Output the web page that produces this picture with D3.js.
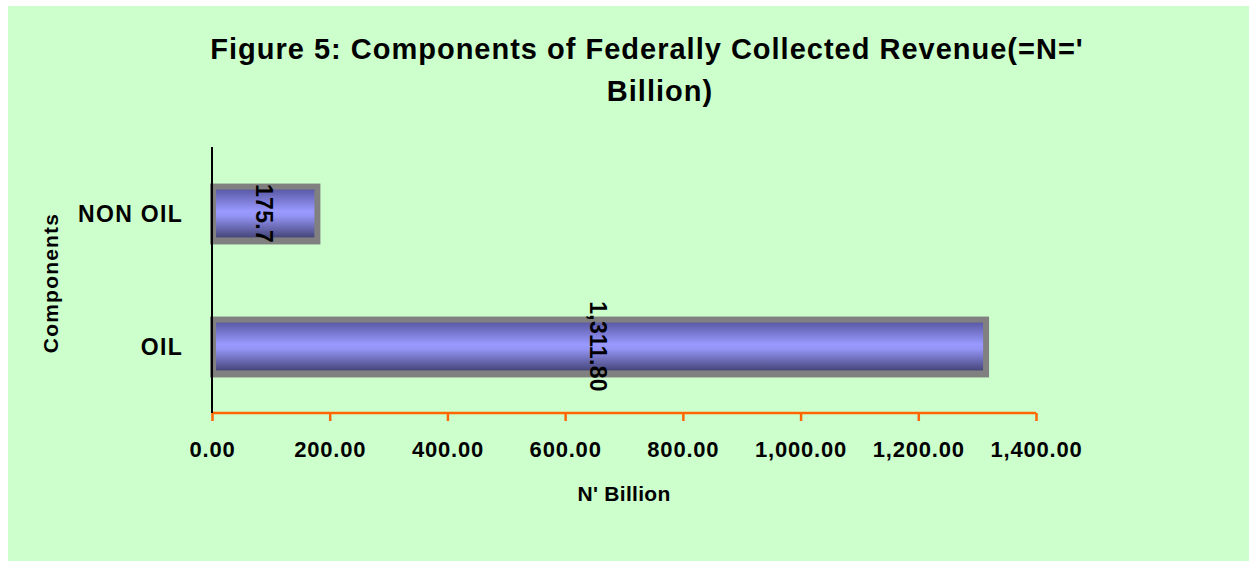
<!DOCTYPE html>
<html>
<head>
<meta charset="utf-8">
<script src="https://d3js.org/d3.v7.min.js"></script>
<style>
  body { margin: 0; background: #ffffff; }
  text { font-family: Arial, "Liberation Sans", sans-serif; font-weight: bold; fill: #000; }
</style>
</head>
<body>
<svg id="chart" width="1249" height="561"></svg>
<script>
// chart data
const components = ["NON OIL", "OIL"]
const revenue = [175.7, 1311.8]
const valueLabels = ["175.7", "1,311.80"]
const xTicks = [0, 200, 400, 600, 800, 1000, 1200, 1400]
const titleLines = ["Figure 5: Components of Federally Collected Revenue(=N='", "Billion)"]

const width = 1249
const height = 561
const margin = { top: 147, right: 213, bottom: 148, left: 212 }

const svg = d3.select("#chart")

// pale green chart area
svg.append("rect")
  .attr("x", 8)
  .attr("y", 6)
  .attr("width", width - 8)
  .attr("height", height - 6)
  .attr("fill", "#ccffcc")

const defs = svg.append("defs")
const grad = defs.append("linearGradient")
  .attr("id", "barFill")
  .attr("x1", 0).attr("y1", 0)
  .attr("x2", 0).attr("y2", 1)
grad.append("stop").attr("offset", "0%").attr("stop-color", "#5a5aa6")
grad.append("stop").attr("offset", "45%").attr("stop-color", "#9999ff")
grad.append("stop").attr("offset", "55%").attr("stop-color", "#9494f6")
grad.append("stop").attr("offset", "100%").attr("stop-color", "#46467a")

const x = d3.scaleLinear()
  .domain([0, 1400])
  .range([margin.left, width - margin.right])

const y = d3.scaleBand()
  .domain(components)
  .range([margin.top, height - margin.bottom])
  .paddingInner(0.64)
  .paddingOuter(0.32)

// title
svg.append("g")
  .selectAll("text")
  .data(titleLines)
  .join("text")
  .attr("x", (d, i) => i === 0 ? 647 : 660)
  .attr("y", (d, i) => 59 + i * 42)
  .attr("text-anchor", "middle")
  .attr("font-size", 29)
  .attr("letter-spacing", 1)
  .text(d => d)

const data = components.map((c, i) => ({ name: c, value: revenue[i], label: valueLabels[i] }))

const bars = svg.append("g").attr("class", "bars")

// grey frame behind each bar
bars.selectAll("rect.frame")
  .data(data)
  .join("rect")
  .attr("class", "frame")
  .attr("x", x(0) - 2)
  .attr("y", d => y(d.name) - 6)
  .attr("width", d => x(d.value) - x(0) + 7)
  .attr("height", y.bandwidth() + 13)
  .attr("fill", "#808080")

bars.selectAll("rect.bar")
  .data(data)
  .join("rect")
  .attr("class", "bar")
  .attr("x", x(0) + 4)
  .attr("y", d => y(d.name))
  .attr("width", d => x(d.value) - x(0) - 5)
  .attr("height", y.bandwidth())
  .attr("fill", "url(#barFill)")

// x axis (orange)
const xAxis = svg.append("g")
  .attr("transform", `translate(0,${height - margin.bottom})`)
  .call(d3.axisBottom(x).tickValues(xTicks).tickSize(8).tickFormat(d3.format(",.2f")))

xAxis.select(".domain")
  .attr("stroke", "#ff6600")
  .attr("stroke-width", 2.5)
  .attr("d", `M${x(0)},0H${x(1400)}`)
xAxis.selectAll(".tick line")
  .attr("stroke", "#ff6600")
  .attr("stroke-width", 2.5)
xAxis.selectAll(".tick text")
  .attr("dy", 0)
  .attr("y", 44)
  .attr("font-size", 22)
  .attr("letter-spacing", 0.8)
  .attr("font-family", "Arial, 'Liberation Sans', sans-serif")
  .attr("font-weight", "bold")
  .attr("fill", "#000")

// y axis line (black)
svg.append("line")
  .attr("x1", x(0)).attr("x2", x(0))
  .attr("y1", margin.top).attr("y2", height - margin.bottom)
  .attr("stroke", "#000")
  .attr("stroke-width", 2)

// category labels
svg.append("g")
  .selectAll("text")
  .data(components)
  .join("text")
  .attr("x", 183)
  .attr("y", d => y(d) + y.bandwidth() / 2 + 8)
  .attr("text-anchor", "end")
  .attr("font-size", 23)
  .attr("letter-spacing", 1.3)
  .text(d => d)

// value labels, rotated
svg.append("g")
  .selectAll("text")
  .data(data)
  .join("text")
  .attr("transform", d => `translate(${x(d.value / 2)},${y(d.name) + y.bandwidth() / 2}) rotate(90)`)
  .attr("text-anchor", "middle")
  .attr("dy", "0.35em")
  .attr("font-size", 23)
  .attr("letter-spacing", 0.3)
  .text(d => d.label)

// axis titles
svg.append("text")
  .attr("x", (x(0) + x(1400)) / 2)
  .attr("y", 501)
  .attr("text-anchor", "middle")
  .attr("font-size", 21)
  .attr("letter-spacing", 0.3)
  .text("N' Billion")

svg.append("text")
  .attr("transform", `translate(58,283) rotate(-90)`)
  .attr("text-anchor", "middle")
  .attr("font-size", 21)
  .attr("letter-spacing", 1.2)
  .text("Components")
</script>
</body>
</html>
